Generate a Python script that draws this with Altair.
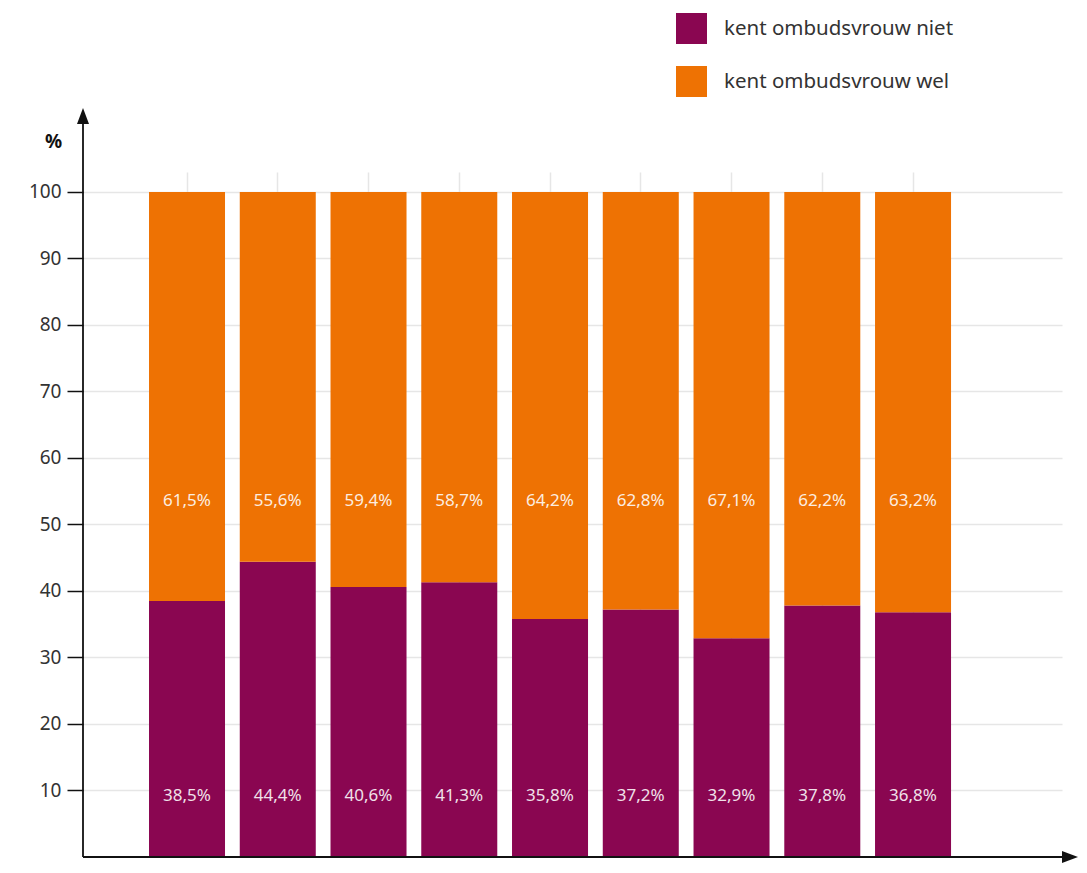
import altair as alt
import pandas as pd

categories = ["1", "2", "3", "4", "5", "6", "7", "8", "9"]
niet = [38.5, 44.4, 40.6, 41.3, 35.8, 37.2, 32.9, 37.8, 36.8]
wel = [61.5, 55.6, 59.4, 58.7, 64.2, 62.8, 67.1, 62.2, 63.2]
series = ["kent ombudsvrouw niet", "kent ombudsvrouw wel"]
colors = ["#8A0651", "#EE7203"]
y_ticks = [10, 20, 30, 40, 50, 60, 70, 80, 90, 100]

FONT = "Noto Sans"
W, H = 979, 685

rows = []
for i, c in enumerate(categories):
    rows.append({"cat": c, "serie": series[0], "val": niet[i], "ord": 0,
                 "lab": f"{niet[i]:.1f}".replace(".", ",") + "%"})
    rows.append({"cat": c, "serie": series[1], "val": wel[i], "ord": 1,
                 "lab": f"{wel[i]:.1f}".replace(".", ",") + "%"})
df = pd.DataFrame(rows)

xscale = alt.Scale(domain=categories, paddingInner=0.1625, paddingOuter=0.975, align=0.373)
yscale = alt.Scale(domain=[0, 103], nice=False, zero=True)

base = alt.Chart(df)

bars = base.mark_bar().encode(
    x=alt.X("cat:N", scale=xscale, sort=categories,
            axis=alt.Axis(title=None, labels=False, ticks=False, domain=False,
                          grid=True, gridColor="#e6e6e6", gridWidth=1.5, bandPosition=0.5)),
    y=alt.Y("val:Q", stack="zero", scale=yscale,
            axis=alt.Axis(values=y_ticks, title="%", titleAngle=0, titleX=-30, titleY=-31,
                          titleAlign="center", titleBaseline="middle", titleFontSize=19,
                          titleFontWeight="bold", titleColor="#111", titleFont=FONT,
                          domain=False, tickSize=16, tickColor="#111", tickWidth=1.5,
                          labelFontSize=19, labelColor="#333", labelFont=FONT, labelPadding=6,
                          grid=True, gridColor="#e6e6e6", gridWidth=1.5)),
    color=alt.Color("serie:N", scale=alt.Scale(domain=series, range=colors),
                    legend=alt.Legend(title=None, orient="none", legendX=593, legendY=-159,
                                      symbolType="square", symbolSize=961, symbolStrokeWidth=0,
                                      labelFontSize=20.5, labelColor="#333", labelFont=FONT,
                                      labelOffset=17, rowPadding=22, padding=0, labelLimit=500,
                                      symbolOpacity=1)),
    order=alt.Order("ord:Q"),
)

lab_niet = alt.Chart(df[df["ord"] == 0]).mark_text(
    font=FONT, fontSize=17, color="#ffffff", opacity=0.88, baseline="middle", align="center"
).encode(x=alt.X("cat:N", scale=xscale, sort=categories), y=alt.datum(9.1), text="lab:N")

lab_wel = alt.Chart(df[df["ord"] == 1]).mark_text(
    font=FONT, fontSize=17, color="#ffffff", opacity=0.88, baseline="middle", align="center"
).encode(x=alt.X("cat:N", scale=xscale, sort=categories), y=alt.datum(53.6), text="lab:N")

one = alt.Chart(pd.DataFrame({"a": [0]}))
y_line = one.mark_rule(color="#111", strokeWidth=1.8).encode(
    x=alt.value(0), y=alt.value(-56), y2=alt.value(H))
x_line = one.mark_rule(color="#111", strokeWidth=1.8).encode(
    x=alt.value(0), x2=alt.value(987), y=alt.value(H))
y_arrow = one.mark_point(shape="M0,-1L0.75,1L-0.75,1Z", filled=True, size=256,
                         color="#111", opacity=1, strokeWidth=0).encode(
    x=alt.value(0), y=alt.value(-56))
x_arrow = one.mark_point(shape="M1,0L-1,0.75L-1,-0.75Z", filled=True, size=256,
                         color="#111", opacity=1, strokeWidth=0).encode(
    x=alt.value(987), y=alt.value(H))

chart = alt.layer(bars, lab_niet, lab_wel, y_line, x_line, y_arrow, x_arrow).properties(
    width=W, height=H,
    autosize=alt.AutoSizeParams(type="none"),
    padding={"left": 75, "top": 164, "right": 17, "bottom": 6},
).configure(font=FONT).configure_view(stroke="transparent", strokeWidth=0)

chart.save("out.html", embed_options={"renderer": "svg", "actions": False})
